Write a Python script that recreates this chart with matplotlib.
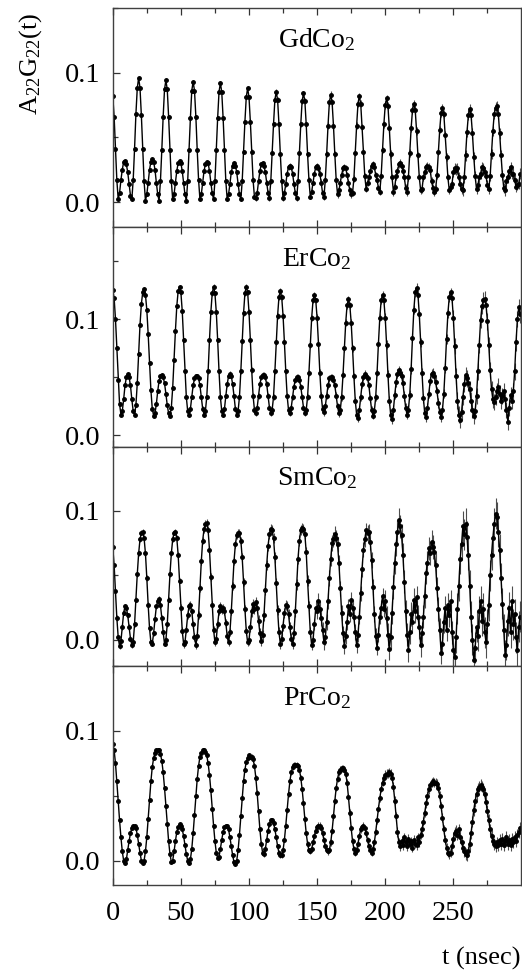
import numpy as np
import matplotlib.pyplot as plt

plt.rcParams['font.family'] = ['Liberation Serif', 'DejaVu Serif']
plt.rcParams['mathtext.fontset'] = 'custom'
plt.rcParams['mathtext.rm'] = 'Liberation Serif'
plt.rcParams['mathtext.it'] = 'Liberation Serif:italic'

# time channels (ns)
t = np.arange(0, 300, 1)

# A22G22(t), in units of 1e-3
gd = [82, 66, 41, 17, 2, 7, 17, 25, 31, 32, 29, 23, 14, 5, 2, 17, 41, 68, 88, 96,
      88, 67, 41, 16, 1, 6, 15, 25, 31, 33, 31, 25, 15, 6, 1, 16, 40, 66, 87, 94,
      87, 66, 40, 16, 2, 6, 15, 24, 30, 32, 30, 24, 15, 6, 1, 16, 40, 65, 86, 93,
      86, 66, 40, 17, 2, 6, 15, 24, 29, 31, 30, 24, 15, 7, 2, 16, 40, 65, 85, 92,
      85, 65, 40, 16, 2, 6, 14, 23, 28, 30, 28, 23, 14, 6, 2, 16, 39, 62, 81, 88,
      81, 62, 39, 17, 4, 3, 7, 16, 24, 29, 30, 28, 23, 15, 7, 3, 16, 38, 60, 79,
      85, 79, 60, 37, 16, 3, 7, 14, 22, 27, 28, 27, 22, 14, 7, 3, 16, 38, 60, 78,
      84, 78, 60, 37, 17, 4, 8, 15, 22, 27, 28, 26, 22, 15, 7, 4, 17, 37, 59, 77,
      83, 77, 59, 37, 17, 6, 9, 15, 21, 26, 27, 26, 21, 15, 9, 6, 7, 18, 38, 59,
      76, 82, 76, 58, 39, 20, 10, 15, 19, 24, 28, 29, 27, 21, 17, 11, 8, 20, 40, 60,
      75, 80, 74, 57, 37, 19, 8, 12, 20, 24, 29, 30, 28, 24, 19, 11, 8, 19, 38, 57,
      71, 76, 71, 55, 36, 19, 9, 10, 19, 23, 27, 28, 27, 25, 16, 11, 8, 10, 21, 39,
      56, 69, 73, 68, 52, 35, 19, 9, 12, 14, 23, 26, 25, 26, 19, 14, 10, 9, 19, 36,
      54, 67, 72, 67, 53, 35, 20, 10, 13, 19, 22, 27, 26, 23, 20, 13, 10, 20, 37, 55,
      68, 73, 74, 68, 53, 36, 21, 11, 9, 16, 19, 24, 27, 22, 22, 17, 12, 13, 14, 22]

er = [125, 118, 100, 75, 48, 27, 18, 21, 31, 43, 50, 53, 50, 43, 31, 21, 18, 26, 45, 70,
      95, 113, 123, 126, 121, 108, 87, 62, 39, 23, 17, 19, 27, 38, 47, 51, 52, 50, 45, 36,
      26, 19, 17, 24, 41, 65, 90, 111, 124, 128, 123, 107, 82, 55, 33, 21, 18, 23, 33, 43,
      49, 51, 51, 49, 43, 33, 23, 18, 21, 33, 55, 82, 106, 122, 128, 122, 106, 82, 55, 33,
      21, 18, 23, 34, 44, 51, 53, 51, 44, 34, 23, 18, 21, 33, 55, 81, 105, 122, 128, 123,
      106, 82, 56, 34, 22, 19, 24, 34, 44, 50, 52, 52, 50, 44, 34, 24, 19, 22, 33, 55,
      80, 103, 119, 124, 119, 103, 80, 55, 34, 22, 19, 24, 33, 42, 48, 50, 50, 48, 42, 33,
      24, 19, 22, 33, 54, 78, 101, 116, 121, 116, 101, 79, 54, 34, 23, 20, 25, 34, 43, 49,
      50, 50, 48, 43, 34, 25, 19, 22, 33, 52, 75, 97, 112, 117, 112, 97, 75, 51, 30, 18,
      15, 22, 33, 44, 50, 53, 51, 49, 43, 32, 22, 17, 21, 33, 54, 79, 101, 116, 121, 116,
      101, 78, 52, 30, 18, 14, 22, 35, 46, 53, 56, 54, 51, 45, 34, 24, 18, 22, 35, 57,
      84, 108, 123, 127, 121, 104, 80, 54, 32, 19, 16, 24, 36, 47, 53, 54, 51, 46, 38, 28,
      20, 16, 22, 36, 58, 83, 105, 119, 123, 118, 101, 77, 51, 30, 18, 13, 20, 33, 44, 52,
      49, 45, 40, 30, 22, 17, 21, 34, 55, 78, 99, 111, 116, 117, 112, 98, 78, 56, 40, 31,
      29, 33, 38, 42, 36, 30, 34, 38, 31, 22, 12, 24, 35, 30, 38, 55, 80, 100, 110, 104]

sm = [72, 58, 38, 17, 2, -5, -1, 10, 21, 26, 25, 19, 10, 1, -4, -2, 12, 31, 51, 67,
      78, 83, 84, 79, 67, 48, 27, 9, -2, -3, 5, 16, 26, 30, 32, 27, 17, 6, -3, 0,
      12, 31, 51, 67, 78, 83, 84, 79, 66, 46, 25, 7, -3, -2, 8, 19, 26, 27, 22, 12,
      2, -4, 3, 19, 40, 61, 77, 86, 90, 91, 85, 70, 49, 27, 8, -2, 1, 12, 22, 26,
      23, 25, 22, 13, 3, -2, 6, 22, 42, 61, 74, 81, 83, 83, 77, 64, 45, 24, 7, -2,
      0, 10, 22, 28, 24, 29, 25, 15, 5, -1, 4, 19, 39, 58, 73, 82, 86, 85, 79, 64,
      44, 23, 6, -3, 1, 11, 21, 27, 26, 20, 10, 1, -3, 5, 22, 43, 63, 77, 85, 87,
      86, 82, 68, 46, 26, 6, -4, 0, 12, 25, 22, 30, 24, 17, 8, -2, 2, 14, 30, 48,
      63, 75, 78, 82, 79, 74, 60, 40, 21, 5, -5, 3, 14, 26, 20, 31, 25, 18, 6, -4,
      4, 18, 36, 55, 70, 78, 85, 83, 84, 76, 62, 41, 20, 3, -6, 4, 18, 25, 34, 24,
      30, 17, 4, -7, 2, 21, 41, 60, 74, 84, 93, 88, 81, 66, 45, 22, 4, -8, 6, 20,
      14, 31, 22, 33, 18, 10, -4, 5, 18, 34, 52, 60, 71, 67, 76, 72, 68, 58, 40, 24,
      8, -10, -3, 14, 25, 8, 27, 19, 30, 6, -8, -13, 2, 24, 42, 63, 74, 88, 82, 90,
      80, 66, 42, 18, 0, -16, -6, 10, 3, 22, 30, 15, 24, 6, -2, 12, 27, 50, 66, 79,
      90, 98, 95, 84, 70, 48, 28, 8, -12, -4, 15, 25, 6, 30, 12, 20, 2, -8, 10, 18]

pr = [90, 85, 75, 61, 46, 31, 18, 7, 0, -2, 1, 8, 15, 21, 25, 27, 27, 25, 20, 13,
      6, 0, -2, 0, 7, 18, 32, 47, 61, 72, 79, 83, 85, 85, 85, 82, 77, 68, 56, 42,
      28, 15, 5, -1, 0, 7, 15, 22, 26, 28, 27, 24, 19, 12, 5, 0, -2, 1, 9, 21,
      35, 50, 63, 73, 80, 83, 85, 85, 84, 81, 75, 66, 54, 40, 27, 15, 6, 2, 3, 9,
      16, 22, 26, 27, 27, 24, 18, 11, 4, -1, -3, 0, 8, 20, 34, 48, 61, 70, 76, 79,
      81, 80, 80, 78, 73, 64, 52, 38, 24, 13, 6, 5, 9, 16, 23, 28, 31, 31, 29, 24,
      18, 11, 6, 4, 4, 8, 16, 27, 39, 51, 61, 68, 72, 74, 74, 74, 73, 70, 64, 55,
      44, 32, 21, 13, 8, 7, 9, 14, 19, 23, 26, 27, 27, 25, 21, 16, 11, 8, 7, 8,
      14, 23, 34, 46, 56, 63, 68, 70, 71, 71, 70, 67, 60, 49, 37, 25, 15, 9, 6, 8,
      13, 19, 24, 26, 27, 25, 21, 16, 11, 8, 6, 9, 14, 22, 31, 40, 48, 55, 60, 64,
      66, 67, 67, 68, 67, 64, 57, 46, 34, 22, 14, 11, 15, 12, 18, 14, 11, 17, 13, 15,
      10, 16, 13, 12, 18, 14, 20, 24, 30, 37, 44, 50, 55, 58, 60, 61, 60, 60, 59, 56,
      50, 42, 33, 24, 16, 10, 6, 5, 6, 11, 17, 21, 23, 20, 24, 18, 14, 10, 7, 5,
      4, 7, 13, 21, 30, 39, 46, 51, 55, 57, 58, 57, 55, 51, 45, 38, 31, 24, 19, 15,
      13, 11, 14, 12, 16, 13, 17, 12, 15, 18, 13, 16, 12, 17, 14, 18, 15, 20, 22, 25]

# error bar size per 50 ns block (1e-3)
gd_err = [1.5, 1.5, 2, 2.5, 3, 4]
er_err = [1.5, 2, 2.5, 3, 4, 7]
sm_err = [2, 3, 4, 6, 9, 12]
pr_err = [1.5, 1.5, 2, 2.5, 3.5, 4.5]

samples = ["GdCo$_2$", "ErCo$_2$", "SmCo$_2$", "PrCo$_2$"]
ylims = [(-0.0194, 0.138), (-0.0095, 0.179), (-0.0202, 0.140), (-0.019, 0.140)]

fig, axes = plt.subplots(4, 1, figsize=(5.22, 9.76), dpi=100, sharex=True)
fig.subplots_adjust(left=0.216, right=0.999, top=0.992, bottom=0.093, hspace=0)

for ax, name, y, e, lim in zip(axes, samples, [gd, er, sm, pr],
                               [gd_err, er_err, sm_err, pr_err], ylims):
    y = np.array(y) / 1000
    e = np.repeat(e, 50) / 1000
    ax.errorbar(t, y, yerr=e, fmt='none', ecolor='0.3', elinewidth=0.8)
    ax.plot(t, y, '-', color='k', lw=1.0)
    ax.plot(t, y, 'o', color='k', ms=2.5)
    ax.set_ylim(lim)
    ax.set_yticks([0.0, 0.1])
    ax.set_yticks([0.05, 0.15], minor=True)
    ax.yaxis.set_major_formatter('{x:.1f}')
    ax.text(0.5, 0.823, name, transform=ax.transAxes, ha='center',
            va='baseline', fontsize=20)
    ax.tick_params(which='both', direction='in', top=True, right=False,
                   colors='0.2', labelcolor='k', labelsize=20.5, width=0.9)
    ax.tick_params(which='major', length=5)
    ax.tick_params(which='minor', length=3.5)
    ax.tick_params(axis='y', pad=9)
    ax.tick_params(axis='x', pad=11)
    for sp in ax.spines.values():
        sp.set_color('0.25')
        sp.set_linewidth(1.0)

axes[-1].set_xlim(0, 300)
axes[-1].set_xticks(np.arange(0, 300, 50))
axes[-1].set_xticks(np.arange(25, 300, 50), minor=True)

fig.text(0.058, 0.935, r'A$_{22}$G$_{22}$(t)', rotation=90, ha='center',
         va='center', fontsize=19)
fig.text(0.998, 0.018, 't (nsec)', ha='right', va='center', fontsize=19)

fig.savefig('out.png', dpi=100)
